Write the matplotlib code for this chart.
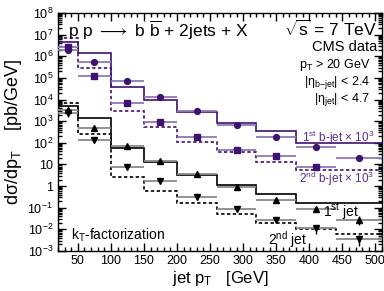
import numpy as np
import matplotlib as mpl
import matplotlib.pyplot as plt
from matplotlib.ticker import FixedLocator, FixedFormatter, LogLocator, NullFormatter

mpl.rcParams["font.family"] = ["Liberation Sans", "DejaVu Sans"]
mpl.rcParams["mathtext.fontset"] = "custom"
mpl.rcParams["mathtext.rm"] = "Liberation Sans"
mpl.rcParams["mathtext.it"] = "Liberation Sans:italic"
mpl.rcParams["mathtext.bf"] = "Liberation Sans:bold"
mpl.rcParams["mathtext.default"] = "regular"

# jet pT bins [GeV]
edges = [20, 50, 100, 150, 200, 260, 320, 380, 440, 510]

# 1st b-jet (x 10^3), CMS data and kT-factorization
bjet1_data = [1.95e6, 5.6e5, 7.2e4, 1.35e4, 3.0e3, 660, 180, 66, 19]
bjet1_err = [0.25, 0.08, 0.06, 0.06, 0.06, 0.07, 0.08, 0.10, 0.12]
bjet1_theory = [4.7e6, 1.4e6, 3.7e4, 1.0e4, 2.6e3, 790, 340, 100, 100]

# 2nd b-jet (x 10^3), last bin has no data point
bjet2_data = [2.75e6, 1.23e5, 7.2e3, 950, 180, 47, 25, 8.0]
bjet2_err = [0.25, 0.06, 0.06, 0.06, 0.07, 0.08, 0.10, 0.12]
bjet2_theory = [6.8e6, 2.75e5, 2.95e3, 560, 112, 39, 13.5, 5.8, 5.5]

# 1st jet
jet1_data = [3200, 490, 71, 14.8, 3.5, 0.89, 0.22, 0.087, 0.028]
jet1_err = [0.35, 0.15, 0.10, 0.10, 0.10, 0.10, 0.15, 0.25, 0.45]
jet1_theory = [5000, 1350, 55, 13.5, 3.3, 1.15, 0.42, 0.16, 0.16]

# 2nd jet
jet2_data = [2500, 130, 7.9, 1.75, 0.30, 0.083, 0.028, 0.011, 0.0037]
jet2_err = [0.35, 0.12, 0.10, 0.10, 0.12, 0.15, 0.25, 0.45, 0.55]
jet2_theory = [6800, 260, 2.6, 0.59, 0.16, 0.052, 0.019, 0.010, 0.0063]

purple = "#3f1270"
purple_light = "#8e78b8"
purple_text = "#5a2d90"
gray = "#8a8a8a"

edges = np.array(edges)
centers = 0.5 * (edges[1:] + edges[:-1])

fig = plt.figure(figsize=(3.84, 2.91), dpi=100)
ax = fig.add_axes([58 / 384, 1 - 251 / 291, 324 / 384, 238 / 291])


def draw_data(vals, rel, marker, color, light):
    n = len(vals)
    x = centers[:n]
    v = np.array(vals)
    ax.hlines(v, edges[:n], edges[1:n + 1], color=light, lw=1.3, zorder=3)
    ax.errorbar(x, v, yerr=v * np.array(rel), fmt=marker, color=color,
                ms=4.2, lw=1.0, capsize=0, zorder=4)


ax.stairs(bjet1_theory, edges, baseline=None, color=purple, lw=1.2, zorder=2)
ax.stairs(bjet2_theory, edges, baseline=None, color=purple, lw=1.2, ls=(0, (2, 1.5)), zorder=2)
ax.stairs(jet1_theory, edges, baseline=None, color="black", lw=1.2, zorder=2)
ax.stairs(jet2_theory, edges, baseline=None, color="black", lw=1.2, ls=(0, (2, 1.5)), zorder=2)

draw_data(bjet1_data, bjet1_err, "o", purple, purple_light)
draw_data(bjet2_data, bjet2_err, "s", purple, purple_light)
draw_data(jet1_data, jet1_err, "^", "black", gray)
draw_data(jet2_data, jet2_err, "v", "black", gray)

ax.set_yscale("log")
ax.set_xlim(20, 510)
ax.set_ylim(1e-3, 1e8)

ax.xaxis.set_major_locator(FixedLocator(np.arange(50, 501, 50)))
ax.xaxis.set_minor_locator(FixedLocator(np.arange(20, 511, 10)))
yt = [10.0 ** k for k in range(-3, 9)]
ylab = [r"$10^{%d}$" % k if k not in (0, 1) else ("1" if k == 0 else "10") for k in range(-3, 9)]
ax.yaxis.set_major_locator(FixedLocator(yt))
ax.yaxis.set_major_formatter(FixedFormatter(ylab))
ax.yaxis.set_minor_locator(LogLocator(base=10, subs=np.arange(2, 10), numticks=20))
ax.yaxis.set_minor_formatter(NullFormatter())
ax.tick_params(which="both", direction="in", top=True, right=True, labelsize=9, width=1.0)
ax.tick_params(which="major", length=6)
ax.tick_params(which="minor", length=3)
ax.tick_params(axis="x", pad=3)
for s in ax.spines.values():
    s.set_linewidth(1.0)

ax.set_xlabel(r"jet $p_{T}$   [GeV]", fontsize=12)
ax.xaxis.set_label_coords(0.5, -0.075)
ax.set_ylabel(r"d$\sigma$/d$p_{T}$    [pb/GeV]", fontsize=13)
ax.yaxis.set_label_coords(-0.105, 0.5)

tr = ax.transAxes
ax.text(0.03, 0.975, r"p p $\longrightarrow$ b $\overline{b}$ + 2jets + X", transform=tr,
        fontsize=12.5, va="top", ha="left")
ax.text(0.985, 0.975, r"$\sqrt{s}$ = 7 TeV", transform=tr, fontsize=12.5, va="top", ha="right")
ax.text(0.985, 0.885, "CMS data", transform=tr, fontsize=10.5, va="top", ha="right")
ax.text(0.965, 0.815, r"$p_{T}$ > 20 GeV", transform=tr, fontsize=9, va="top", ha="right")
ax.text(0.965, 0.745, r"|$\eta_{b\mathrm{-}jet}$| < 2.4", transform=tr, fontsize=9, va="top", ha="right")
ax.text(0.965, 0.672, r"|$\eta_{jet}$| < 4.7", transform=tr, fontsize=9, va="top", ha="right")
ax.text(0.975, 0.475, r"$1^{st}$ b-jet $\times$ $10^{3}$", transform=tr, fontsize=8.5,
        color=purple_text, ha="right", va="center")
ax.text(0.975, 0.305, r"$2^{nd}$ b-jet $\times$ $10^{3}$", transform=tr, fontsize=8.5,
        color=purple_text, ha="right", va="center")
ax.text(0.93, 0.165, r"$1^{st}$ jet", transform=tr, fontsize=10, ha="right", va="center")
ax.text(0.77, 0.05, r"$2^{nd}$ jet", transform=tr, fontsize=10, ha="right", va="center")
ax.text(0.04, 0.065, r"$k_{T}$-factorization", transform=tr, fontsize=10, ha="left", va="center")

fig.savefig("out.png", dpi=100)
